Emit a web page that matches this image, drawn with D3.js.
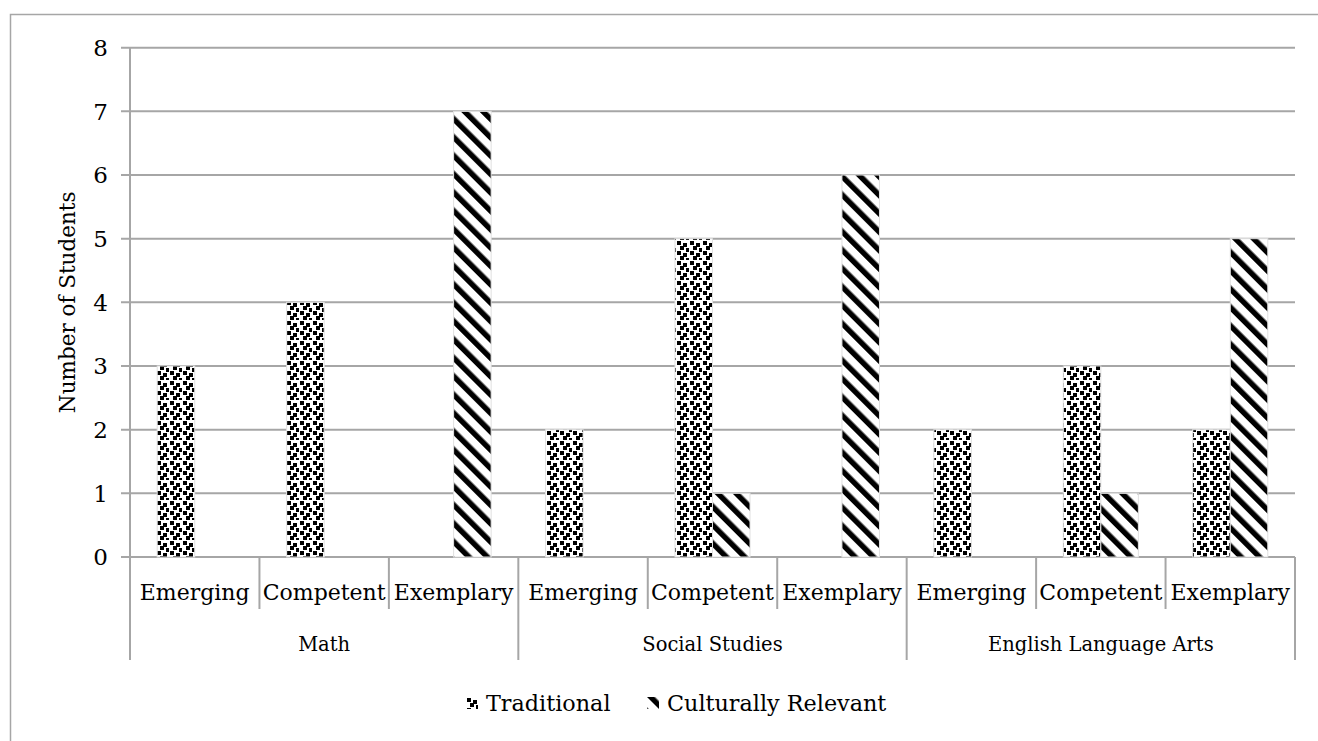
<!DOCTYPE html>
<html><head><meta charset="utf-8">
<script src="https://cdn.jsdelivr.net/npm/d3@7"></script>
<style>
html,body{margin:0;padding:0;background:#fff;}
text{font-family:"DejaVu Serif",serif;fill:#000;}
</style></head>
<body><svg id="chart" width="1318" height="741"></svg>
<script>
const subjects = ["Math", "Social Studies", "English Language Arts"];
const levels = ["Emerging", "Competent", "Exemplary"];
const seriesNames = ["Traditional", "Culturally Relevant"];
// values per subject, in order of levels
const traditional = [[3, 4, 0], [2, 5, 0], [2, 3, 2]];
const culturallyRelevant = [[0, 0, 7], [0, 1, 6], [0, 1, 5]];
const yTicks = [0, 1, 2, 3, 4, 5, 6, 7, 8];

(function () {
const svg = d3.select("#chart");
const defs = svg.append("defs");
// confetti pattern
const pc = defs.append("pattern").attr("id", "pTrad").attr("patternUnits", "userSpaceOnUse")
  .attr("width", 13).attr("height", 20);
pc.append("rect").attr("width", 13).attr("height", 20).attr("fill", "#fff");
[[1,1],[7,3],[4,6],[10,8],[1,11],[7,13],[4,16],[10,18]].forEach(([a,b]) =>
  pc.append("rect").attr("x", a).attr("y", b).attr("width", 4).attr("height", 4).attr("fill", "#000"));
// diagonal stripes
const ps = defs.append("pattern").attr("id", "pCult").attr("patternUnits", "userSpaceOnUse")
  .attr("width", 13).attr("height", 13).attr("patternTransform", "rotate(-45)");
ps.append("rect").attr("width", 13).attr("height", 13).attr("fill", "#fff");
ps.append("rect").attr("x", 0).attr("width", 5.5).attr("height", 13).attr("fill", "#000");
const fills = ["url(#pTrad)", "url(#pCult)"];

// outer border
svg.append("rect").attr("x", 10.5).attr("y", 14.5).attr("width", 1330).attr("height", 760)
  .attr("fill", "none").attr("stroke", "#a6a6a6").attr("stroke-width", 1.5);

const pLeft = 130, pRight = 1295, pTop = 47.7, pBottom = 557;
const y = d3.scaleLinear().domain([0, 8]).range([pBottom, pTop]);
const x0 = d3.scaleBand().domain(subjects).range([pLeft, pRight]);
const x1 = d3.scaleBand().domain(levels).range([0, x0.bandwidth()]);
const x2 = d3.scaleBand().domain(seriesNames).range([0, x1.bandwidth()]).paddingInner(0).paddingOuter(0.725);

const gridCol = "#a6a6a6";
// gridlines
svg.append("g").selectAll("line").data(yTicks).join("line")
  .attr("x1", pLeft - 9).attr("x2", pRight).attr("y1", d => y(d)).attr("y2", d => y(d))
  .attr("stroke", gridCol).attr("stroke-width", 2);
// y axis line
svg.append("line").attr("x1", pLeft).attr("x2", pLeft).attr("y1", pTop).attr("y2", 660)
  .attr("stroke", gridCol).attr("stroke-width", 2);
// y tick labels
svg.append("g").selectAll("text").data(yTicks).join("text")
  .attr("x", 108).attr("y", d => y(d)).attr("dy", "0.36em").attr("text-anchor", "end")
  .style("font-size", "23px").text(d => d);
// y title
svg.append("text").attr("transform", `translate(75,${(pTop + pBottom) / 2}) rotate(-90)`)
  .attr("text-anchor", "middle").style("font-size", "21.5px").text("Number of Students");

// bars
const rows = [];
subjects.forEach((s, i) => levels.forEach((l, j) => {
  rows.push({s, l, k: 0, v: traditional[i][j]});
  rows.push({s, l, k: 1, v: culturallyRelevant[i][j]});
}));
svg.append("g").selectAll("rect").data(rows.filter(d => d.v > 0)).join("rect")
  .attr("x", d => x0(d.s) + x1(d.l) + x2(seriesNames[d.k]))
  .attr("width", x2.bandwidth())
  .attr("y", d => y(d.v)).attr("height", d => y(0) - y(d.v))
  .attr("fill", d => fills[d.k]).attr("stroke", "#e0e0e0").attr("stroke-width", 1);

// category separators
const catEdges = [];
subjects.forEach(s => levels.forEach((l, j) => { if (j > 0) catEdges.push(x0(s) + x1(l)); }));
svg.append("g").selectAll("line").data(catEdges).join("line")
  .attr("x1", d => d).attr("x2", d => d).attr("y1", pBottom).attr("y2", 609)
  .attr("stroke", gridCol).attr("stroke-width", 2);
const grpEdges = subjects.map(s => x0(s) + x0.bandwidth());
svg.append("g").selectAll("line").data(grpEdges).join("line")
  .attr("x1", d => d).attr("x2", d => d).attr("y1", pBottom).attr("y2", 660)
  .attr("stroke", gridCol).attr("stroke-width", 2);

// category labels
svg.append("g").selectAll("text").data(subjects.flatMap(s => levels.map(l => ({s, l})))).join("text")
  .attr("x", d => x0(d.s) + x1(d.l) + x1.bandwidth() / 2).attr("y", 600)
  .attr("text-anchor", "middle").style("font-size", "22px").text(d => d.l);
svg.append("g").selectAll("text").data(subjects).join("text")
  .attr("x", d => x0(d) + x0.bandwidth() / 2).attr("y", 651)
  .attr("text-anchor", "middle").style("font-size", "19.5px").text(d => d);

// legend
const legendX = [466, 647];
const lg = svg.append("g").selectAll("g").data(seriesNames).join("g")
  .attr("transform", (d, i) => `translate(${legendX[i]},697)`);
lg.append("rect").attr("width", 12).attr("height", 12).attr("fill", (d, i) => fills[i]);
lg.append("text").attr("x", 20).attr("y", 14).style("font-size", "22.3px").text(d => d);
})();
</script></body></html>
